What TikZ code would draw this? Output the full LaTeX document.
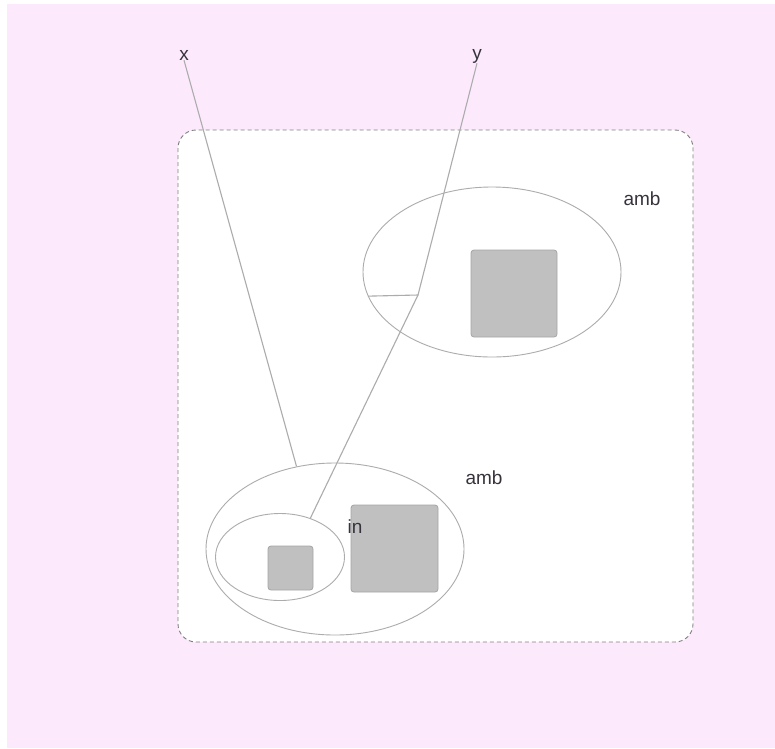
\documentclass[tikz,border=0pt]{standalone}
\usepackage{fontspec}
\setmainfont{Liberation Sans}
\usetikzlibrary{shapes.geometric}
\definecolor{bgpink}{RGB}{252,234,252}
\definecolor{wire}{RGB}{172,172,172}
\definecolor{frame}{RGB}{128,128,128}
\definecolor{boxfill}{RGB}{192,192,192}
\definecolor{boxedge}{RGB}{165,165,165}
\definecolor{ink}{RGB}{55,50,60}
\begin{document}
\begin{tikzpicture}[x=1pt,y=-1pt,
  lbl/.style={inner sep=0pt,text=ink,font=\fontsize{19}{21}\selectfont},
  amb/.style={ellipse,draw=wire,line width=0.9pt,inner sep=0pt},
  proc/.style={rectangle,draw=boxedge,fill=boxfill,rounded corners=3pt,inner sep=0pt,line width=0.8pt},
  wireline/.style={draw=wire,line width=1.1pt}]
  \useasboundingbox (0,0) rectangle (775,748);
  \fill[white] (0,0) rectangle (775,748);
  \fill[bgpink] (7,4) rectangle (775,748);

  % dashed boundary of the whole system
  \draw[frame,fill=white,line width=0.9pt,dash pattern=on 4pt off 3pt,rounded corners=18pt]
    (178,130) rectangle (693,642);

  % ambients
  \node[amb,minimum width=258pt,minimum height=170pt] (upper) at (492,272) {};
  \node[amb,minimum width=258pt,minimum height=172pt] (lower) at (335,549) {};
  \node[amb,minimum width=129pt,minimum height=87pt] (inner) at (280,557) {};

  % processes
  \node[proc,minimum width=86pt,minimum height=87pt] (p1) at (514,293.5) {};
  \node[proc,minimum width=87pt,minimum height=87pt] (p2) at (394.5,548.5) {};
  \node[proc,minimum width=45pt,minimum height=44pt] (p3) at (290.5,568) {};

  % labels
  \node[lbl] (ambA) at (642,199) {amb};
  \node[lbl] (ambB) at (484,478) {amb};
  \node[lbl] (inlbl) at (355,527) {in};
  \node[lbl] (xname) at (184,55) {x};
  \node[lbl] (yname) at (477,56) {y};

  % name wiring
  \coordinate (junc) at (418,295);
  \draw[wireline] (xname.south) -- (lower.115.6);
  \draw[wireline] (yname.south) -- (junc);
  \draw[wireline] (junc) -- (upper.191.5);
  \draw[wireline] (junc) -- (inner.52);
\end{tikzpicture}
\end{document}
